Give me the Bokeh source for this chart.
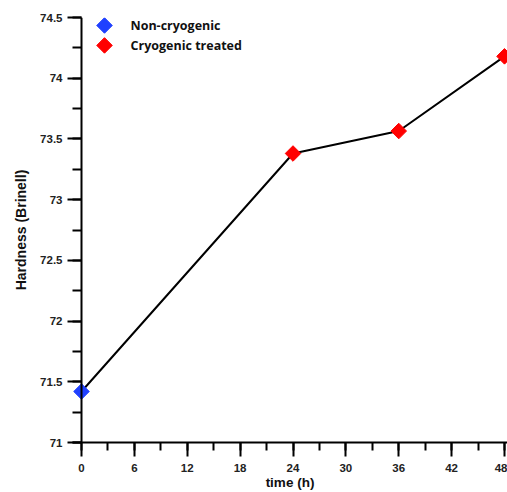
import math
from bokeh.plotting import figure
from bokeh.models import SingleIntervalTicker, NumeralTickFormatter, Range1d, Label, Span
from bokeh.embed import file_html
from bokeh.resources import INLINE

times = [0, 24, 36, 48]
hardness = [71.42, 73.38, 73.565, 74.18]
non_cryo_t = [0]
non_cryo_h = [71.42]
cryo_t = [24, 36, 48]
cryo_h = [73.38, 73.565, 74.18]
series_names = ["Non-cryogenic", "Cryogenic treated"]
series_colors = ["#1f40ff", "#ff0000"]

LEFT, RIGHT, TOP, BOTTOM = 72, 507, 17, 443
AXIS_X = 81
Y0, Y1 = 71, 74.5
PX_PER_H = (504 - AXIS_X) / 48.0
x0 = -(AXIS_X - LEFT) / PX_PER_H
x1 = (RIGHT - AXIS_X) / PX_PER_H

p = figure(width=507, height=492, output_backend="svg", toolbar_location=None,
           x_range=Range1d(x0, x1), y_range=Range1d(Y0, Y1),
           min_border_left=LEFT, min_border_right=0, min_border_top=TOP,
           min_border_bottom=492 - BOTTOM)
p.outline_line_color = None
p.grid.visible = False
p.background_fill_color = "white"
p.border_fill_color = "white"
p.extra_x_ranges = {"px": Range1d(LEFT, RIGHT)}
p.extra_y_ranges = {"py": Range1d(BOTTOM, TOP)}

# y axis line sits at t = 0
p.add_layout(Span(location=0, dimension="height", line_color="black", line_width=2))

p.line(times, hardness, line_color="black", line_width=2)
p.scatter(non_cryo_t, non_cryo_h, marker="square", angle=math.pi/4, size=11,
          fill_color=series_colors[0], line_color=series_colors[0])
p.scatter(cryo_t, cryo_h, marker="square", angle=math.pi/4, size=11,
          fill_color=series_colors[1], line_color=series_colors[1])

for ax in (p.xaxis[0], p.yaxis[0]):
    ax.axis_line_width = 2
    ax.major_tick_line_width = 2
    ax.minor_tick_line_width = 2
    ax.major_label_text_font = "Liberation Sans"
    ax.major_label_text_font_style = "bold"
    ax.major_label_text_font_size = "11.5px"
    ax.major_label_text_color = "#222222"
    ax.axis_label_text_font = "Liberation Sans"
    ax.axis_label_text_font_style = "bold"
    ax.axis_label_text_font_size = "14px"
    ax.axis_label_text_color = "#111111"

xa, ya = p.xaxis[0], p.yaxis[0]
xa.major_tick_out = 14
xa.major_tick_in = 0
xa.minor_tick_out = 8
xa.minor_tick_in = 0
xa.major_label_standoff = 7
xa.axis_label_standoff = 0
xa.axis_label_text_font_size = "13.5px"

ya.axis_line_color = None
ya.major_tick_in = AXIS_X - LEFT
ya.major_tick_out = 5
ya.minor_tick_in = AXIS_X - LEFT
ya.minor_tick_out = 0
ya.major_label_standoff = 5
ya.axis_label_standoff = 8

p.xaxis.ticker = SingleIntervalTicker(interval=6, num_minor_ticks=2)
p.yaxis.ticker = SingleIntervalTicker(interval=0.5, num_minor_ticks=2)
p.yaxis.formatter = NumeralTickFormatter(format="0.[0]")
p.xaxis.axis_label = "time (h)"
p.yaxis.axis_label = "Hardness (Brinell)"

# legend (manual, so the diamonds keep their rotation)
for i, (name, col) in enumerate(zip(series_names, series_colors)):
    ly = 25 + 20 * i
    p.scatter([104], [ly], x_range_name="px", y_range_name="py", marker="square",
              angle=math.pi/4, size=11, fill_color=col, line_color=col)
    p.add_layout(Label(x=130, y=ly, x_range_name="px", y_range_name="py", text=name,
                       text_baseline="middle", text_font="Open Sans",
                       text_font_style="bold", text_font_size="12.5px",
                       text_color="#111111"))

open("out.html", "w").write(file_html(p, INLINE))
